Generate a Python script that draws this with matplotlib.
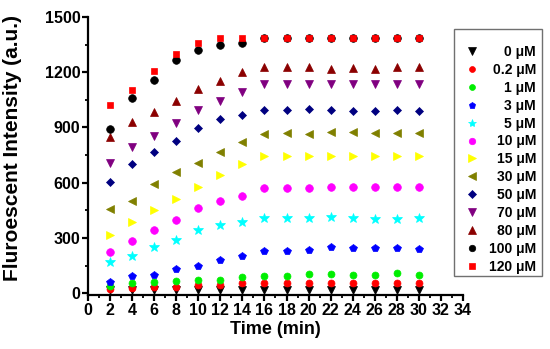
import matplotlib
matplotlib.use("Agg")
import matplotlib.pyplot as plt
from matplotlib.ticker import MultipleLocator
from matplotlib.patches import Rectangle

plt.rcParams['font.family'] = ['Liberation Sans', 'DejaVu Sans']
plt.rcParams['font.weight'] = 'bold'

time = [2, 4, 6, 8, 10, 12, 14, 16, 18, 20, 22, 24, 26, 28, 30]

labels = ['0 μM', '0.2 μM', '1 μM', '3 μM', '5 μM', '10 μM', '15 μM',
          '30 μM', '50 μM', '70 μM', '80 μM', '100 μM', '120 μM']

c0 = [16, 17, 17, 17, 17, 17, 17, 17, 17, 17, 17, 17, 17, 17, 17]
c02 = [25, 29, 34, 34, 47, 47, 53, 56, 55, 55, 55, 55, 55, 55, 55]
c1 = [40, 53, 58, 65, 71, 74, 89, 92, 92, 103, 103, 98, 100, 107, 100]
c3 = [58, 94, 101, 130, 149, 179, 201, 228, 228, 237, 252, 247, 247, 243, 239]
c5 = [170, 203, 252, 291, 342, 370, 388, 409, 409, 409, 411, 409, 405, 405, 409]
c10 = [221, 283, 342, 400, 464, 500, 529, 573, 573, 573, 578, 578, 578, 578, 578]
c15 = [315, 388, 451, 511, 574, 641, 699, 745, 745, 745, 745, 745, 745, 745, 745]
c30 = [457, 502, 592, 656, 707, 765, 822, 864, 868, 864, 877, 877, 871, 868, 868]
c50 = [605, 701, 768, 828, 898, 944, 966, 995, 995, 1000, 995, 989, 989, 995, 989]
c70 = [705, 795, 855, 922, 995, 1043, 1091, 1134, 1134, 1134, 1134, 1134, 1134, 1134, 1138]
c80 = [850, 928, 982, 1045, 1107, 1152, 1203, 1230, 1230, 1230, 1220, 1225, 1220, 1230, 1230]
c100 = [893, 1061, 1158, 1266, 1322, 1346, 1357, 1384, 1384, 1384, 1384, 1384, 1384, 1384, 1384]
c120 = [1022, 1103, 1208, 1297, 1360, 1386, 1386, 1388, 1386, 1386, 1386, 1386, 1386, 1386, 1386]

series = [c0, c02, c1, c3, c5, c10, c15, c30, c50, c70, c80, c100, c120]
colors = ['black', '#ff0000', '#00ee00', '#0000ff', '#00ffff', '#ff00ff', '#ffff00',
          '#808000', '#000080', '#800080', '#8b0000', 'black', '#ff0000']
markers = ['v', 'o', 'o', 'p', '*', 'o', '>', '<', 'D', 'v', '^', 'o', 's']
sizes = [6, 5, 5, 5.5, 7, 5.5, 6, 6, 4.5, 6, 6, 5.5, 5]

fig = plt.figure(figsize=(5.5, 3.49), dpi=100)
ax = fig.add_axes([0.16, 0.1547, 0.6818, 0.7966])

for y, lab, col, mk, ms in zip(series, labels, colors, markers, sizes):
    ax.plot(time, y, linestyle='none', marker=mk, color=col, markersize=ms,
            markeredgewidth=0.5, markeredgecolor=col, label=lab)

ax.set_xlim(0, 34)
ax.set_ylim(-10, 1500)
ax.xaxis.set_major_locator(MultipleLocator(2))
ax.xaxis.set_minor_locator(MultipleLocator(1))
ax.yaxis.set_major_locator(MultipleLocator(300))
ax.yaxis.set_minor_locator(MultipleLocator(150))

for s in ['top', 'right']:
    ax.spines[s].set_visible(False)
for s in ['left', 'bottom']:
    ax.spines[s].set_linewidth(1.6)

ax.tick_params(which='major', direction='out', length=4, width=1.6, labelsize=11.5, pad=1.5)
ax.tick_params(which='minor', direction='out', length=2.5, width=1.3)

ax.set_xlabel('Time (min)', fontsize=13, fontweight='bold')
ax.set_ylabel('Fluroescent Intensity (a.u.)', fontsize=15, fontweight='bold')
ax.xaxis.set_label_coords(0.5, -0.095)
ax.yaxis.set_label_coords(-0.175, 0.53)

# legend box drawn separately (extra blank space on top like the original)
fig.patches.append(Rectangle((454 / 550, 1 - 276 / 349), 88 / 550, 247 / 349,
                             transform=fig.transFigure, fill=False,
                             edgecolor='#707070', linewidth=1))
leg = ax.legend(loc='upper right', bbox_to_anchor=(536 / 550, 1 - 45 / 349),
                bbox_transform=fig.transFigure, frameon=False, fontsize=10,
                handletextpad=0.75, labelspacing=0.28, borderpad=0, borderaxespad=0,
                handlelength=1.0, markerscale=0.85)

# right-align the legend labels (shift each text by its missing width)
renderer = fig.canvas.get_renderer()
widths = [t.get_window_extent(renderer).width for t in leg.get_texts()]
wmax = max(widths)
for t, w in zip(leg.get_texts(), widths):
    t.set_fontweight('bold')
    t.set_position((wmax - w, 0))

fig.savefig('out.png', dpi=100)
